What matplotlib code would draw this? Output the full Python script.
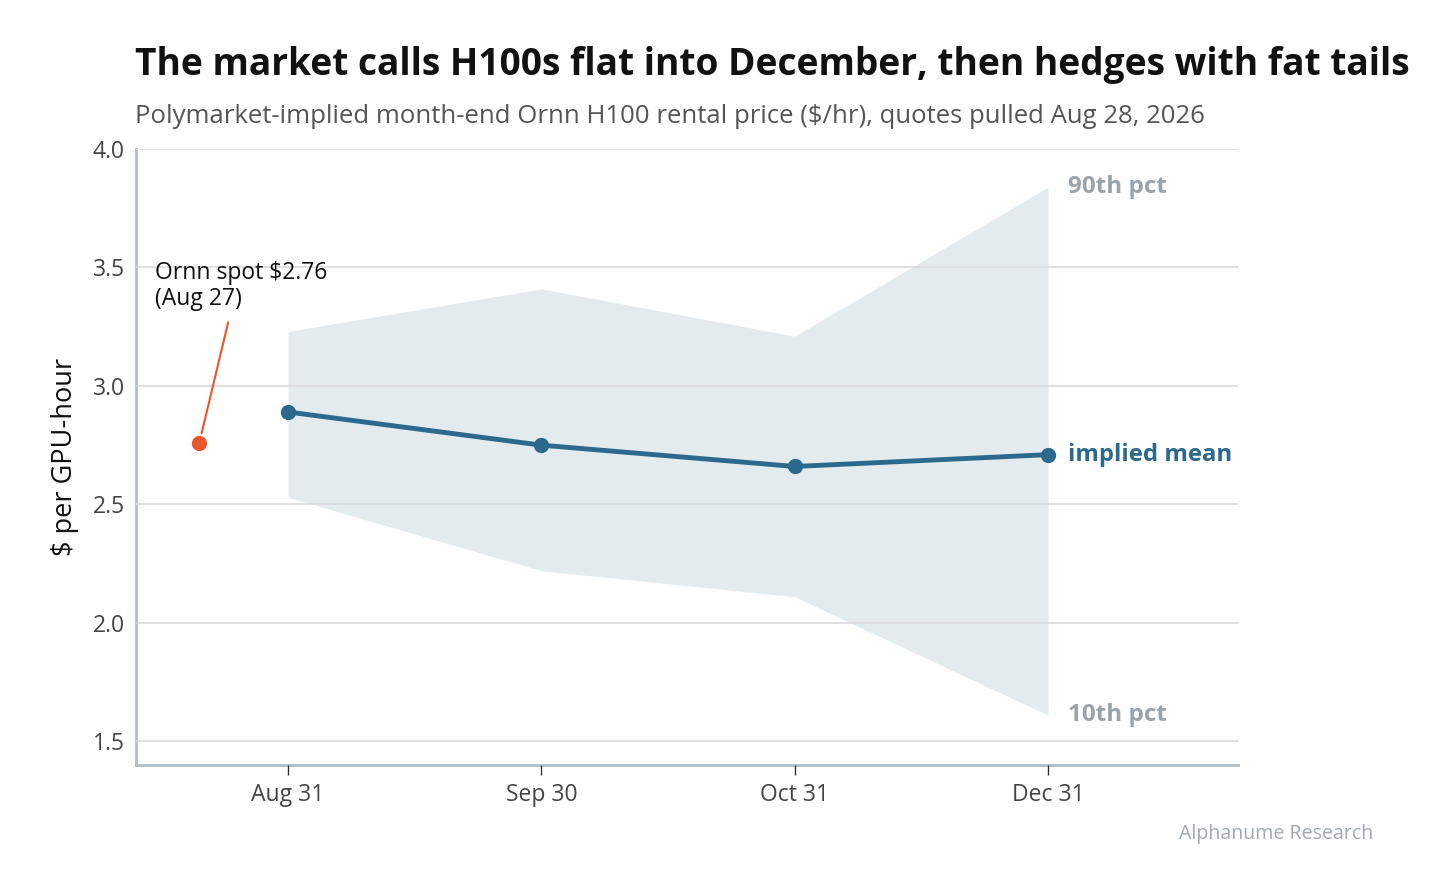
import matplotlib
matplotlib.use("Agg")
from matplotlib import pyplot as plt
import numpy as np

plt.rcParams['font.family'] = ['Open Sans', 'DejaVu Sans']

months = ['Aug 31', 'Sep 30', 'Oct 31', 'Dec 31']
mean_price = [2.89, 2.75, 2.66, 2.71]
p90 = [3.23, 3.41, 3.21, 3.84]
p10 = [2.53, 2.22, 2.11, 1.61]
spot_price = 2.76
spot_label = 'Ornn spot $2.76\n(Aug 27)'

blue = '#2b6a8c'
band = '#e4ebef'
grey = '#98a4ad'
orange = '#e8562f'

fig = plt.figure(figsize=(14.56, 8.88), dpi=100)
ax = fig.add_axes([0.0934, 0.1385, 0.757, 0.6937])

x = np.arange(len(months))
ax.fill_between(x, p10, p90, color=band, lw=0, zorder=1)
ax.plot(x, mean_price, color=blue, lw=3.5, marker='o', ms=10, zorder=4)
ax.plot([-0.35], [spot_price], 'o', color=orange, ms=10, zorder=4)
ax.annotate(spot_label, xy=(-0.35, spot_price), xytext=(-0.525, 3.315),
            fontsize=16.5, color='#111111', va='bottom', ha='left',
            linespacing=1.12,
            arrowprops=dict(arrowstyle='-', color=orange, lw=1.5,
                            shrinkA=6, shrinkB=7, relpos=(0.44, 0.0)))

ax.text(x[-1] + 0.08, p90[-1] + 0.0, '90th pct', color=grey, fontsize=17.5,
        fontweight='bold', va='center', ha='left')
ax.text(x[-1] + 0.08, p10[-1] + 0.0, '10th pct', color=grey, fontsize=17.5,
        fontweight='bold', va='center', ha='left')
ax.text(x[-1] + 0.08, mean_price[-1], 'implied mean', color=blue, fontsize=17.2,
        fontweight='bold', va='center', ha='left')

ax.set_xlim(-0.6, 3.75)
ax.set_ylim(1.4, 4.0)
ax.set_xticks(x)
ax.set_xticklabels(months)
ax.set_yticks([1.5, 2.0, 2.5, 3.0, 3.5, 4.0])
ax.set_yticklabels(['1.5', '2.0', '2.5', '3.0', '3.5', '4.0'])
ax.tick_params(axis='y', length=0, labelsize=16.5, labelcolor='#444444', pad=8)
ax.tick_params(axis='x', length=7, width=1, color='#333333', labelsize=16.5,
               labelcolor='#444444', pad=6)
ax.grid(axis='y', color='#d8dadc', lw=1.2, zorder=2)
ax.set_axisbelow(False)
for s in ['top', 'right']:
    ax.spines[s].set_visible(False)
for s in ['left', 'bottom']:
    ax.spines[s].set_color('#b3bcc5')
    ax.spines[s].set_linewidth(2)
ax.set_ylabel('$ per GPU-hour', fontsize=19.5, color='#111111', labelpad=10)

fig.text(0.0927, 0.915, 'The market calls H100s flat into December, then hedges with fat tails',
         fontsize=26.7, fontweight='bold', color='#111111', ha='left', va='baseline')
fig.text(0.0927, 0.862, 'Polymarket-implied month-end Ornn H100 rental price ($/hr), quotes pulled Aug 28, 2026',
         fontsize=18.5, color='#555555', ha='left', va='baseline')
fig.text(0.943, 0.055, 'Alphanume Research', fontsize=14.1, color='#a0a9b1',
         ha='right', va='baseline')

fig.savefig('out.png', dpi=100)
